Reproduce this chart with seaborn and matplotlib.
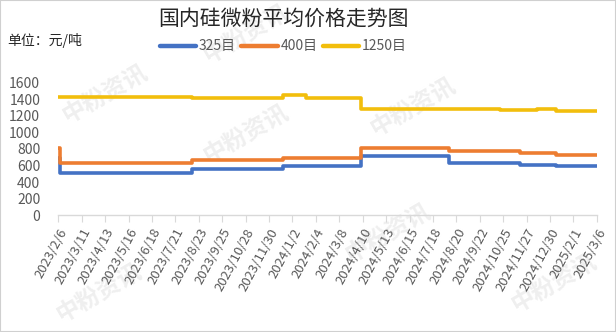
import matplotlib
matplotlib.use("Agg")
import matplotlib.pyplot as plt
from matplotlib.lines import Line2D
from matplotlib.patches import Rectangle
import seaborn as sns
import pandas as pd

# ---- data ----
title = "国内硅微粉平均价格走势图"
unit_label = "单位：元/吨"
series_names = ["325目", "400目", "1250目"]

dates_325_400 = ["2023-02-06", "2023-02-09", "2023-08-13", "2023-12-19", "2024-04-08",
                 "2024-08-10", "2024-11-18", "2025-01-07", "2025-03-06"]
price_325 = [690, 510, 560, 590, 710, 630, 610, 590, 590]
price_400 = [810, 630, 660, 690, 810, 770, 750, 730, 730]

dates_1250 = ["2023-02-06", "2023-08-13", "2023-12-19", "2024-01-21", "2024-04-08",
              "2024-10-21", "2024-12-12", "2025-01-07", "2025-03-06"]
price_1250 = [1425, 1410, 1450, 1410, 1280, 1270, 1280, 1260, 1260]

tick_labels = ["2023/2/6", "2023/3/11", "2023/4/13", "2023/5/16", "2023/6/18", "2023/7/21",
               "2023/8/23", "2023/9/25", "2023/10/28", "2023/11/30", "2024/1/2", "2024/2/4",
               "2024/3/8", "2024/4/10", "2024/5/13", "2024/6/15", "2024/7/18", "2024/8/20",
               "2024/9/22", "2024/10/25", "2024/11/27", "2024/12/30", "2025/2/1", "2025/3/6"]
y_ticks = [0, 200, 400, 600, 800, 1000, 1200, 1400, 1600]

colors = ["#4472C4", "#ED7D31", "#F2BE0C"]
watermark = "中粉资讯"

# ---- build table ----
df = pd.concat([
    pd.DataFrame({"date": pd.to_datetime(dates_325_400), "price": price_325, "series": series_names[0]}),
    pd.DataFrame({"date": pd.to_datetime(dates_325_400), "price": price_400, "series": series_names[1]}),
    pd.DataFrame({"date": pd.to_datetime(dates_1250), "price": price_1250, "series": series_names[2]}),
], ignore_index=True)

sns.set_theme(style="white")
plt.rcParams["font.family"] = ["Noto Sans CJK SC", "DejaVu Sans"]

fig = plt.figure(figsize=(6.16, 3.32), dpi=100)
fig.patch.set_facecolor("white")
ax = fig.add_axes([0.0946, 0.352, 0.969 - 0.0946, 0.751 - 0.352])
ax.patch.set_alpha(0)

# faint watermarks
wm_pos = [(0.40, 0.90), (0.17, 0.72), (0.40, 0.60), (0.67, 0.68), (0.63, 0.30), (0.16, 0.12), (0.90, 0.15)]
for (wx, wy) in wm_pos:
    fig.text(wx, wy, watermark, fontsize=17, color="#efefef", rotation=30,
             ha="center", va="center", zorder=-5, fontweight="bold")

sns.lineplot(data=df, x="date", y="price", hue="series", hue_order=series_names,
             palette=colors, estimator=None, sort=True, drawstyle="steps-post",
             linewidth=2.6, legend=False, ax=ax)

tick_dates = pd.to_datetime(tick_labels, format="%Y/%m/%d")
ax.set_xlim(tick_dates[0], tick_dates[-1])
ax.set_ylim(0, 1600)
ax.set_xticks(tick_dates)
ax.set_xticklabels(tick_labels, rotation=62, ha="right", va="top", rotation_mode="anchor",
                   fontsize=9.5, color="#595959")
ax.set_yticks(y_ticks)
ax.set_yticklabels([str(v) for v in y_ticks], fontsize=10, color="#595959")
ax.set_xlabel("")
ax.set_ylabel("")
for s in ["top", "right", "left"]:
    ax.spines[s].set_visible(False)
ax.spines["bottom"].set_color("#d9d9d9")
ax.spines["bottom"].set_linewidth(1)
ax.tick_params(axis="x", bottom=True, length=5, width=0.8, color="#d9d9d9", pad=3)
ax.tick_params(axis="y", left=False, pad=7)
ax.grid(False)

fig.text(0.46, 0.945, title, fontsize=15, color="#262626", ha="center", va="center")
fig.text(0.012, 0.878, unit_label, fontsize=10, color="#262626", ha="left", va="center")

handles = [Line2D([0], [0], color=c, lw=3.2) for c in colors]
fig.legend(handles, series_names, loc="center", bbox_to_anchor=(0.46, 0.86), ncol=3,
           frameon=False, fontsize=10, handlelength=2.6, handletextpad=0.2, columnspacing=0.4,
           labelcolor="#595959")

fig.patches.append(Rectangle((0, 0), 1, 1, transform=fig.transFigure, fill=False,
                             edgecolor="#d0d0d0", linewidth=1.5))

fig.savefig("out.png", dpi=100)
